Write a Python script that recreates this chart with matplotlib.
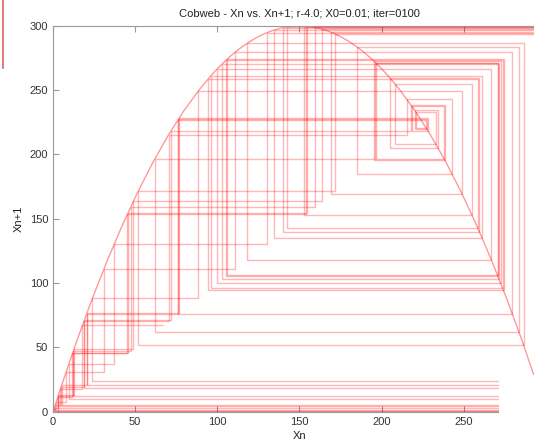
import matplotlib
matplotlib.use("Agg")
import matplotlib.pyplot as plt
from matplotlib.collections import LineCollection
from matplotlib.path import Path
from matplotlib.patches import PathPatch, Rectangle
from matplotlib.lines import Line2D

# Xn for n = 0 .. 100, shown on a 0-300 scale
xn = [3.00, 11.88, 45.64, 154.78, 299.70, 1.22, 4.85, 19.10, 71.53, 217.89,
      238.55, 195.46, 272.44, 100.10, 266.80, 118.11, 286.44, 51.80, 171.42, 293.88,
      23.98, 88.25, 249.16, 168.91, 295.23, 18.77, 70.37, 215.46, 242.87, 185.00,
      283.67, 61.77, 196.21, 271.53, 103.06, 270.62, 106.01, 274.20, 94.33, 258.68,
      142.52, 299.25, 2.98, 11.79, 45.32, 153.89, 299.80, 0.81, 3.22, 12.74,
      48.81, 163.47, 297.58, 9.60, 37.18, 130.27, 294.81, 20.39, 76.02, 227.03,
      220.88, 233.02, 208.11, 254.98, 153.06, 299.87, 0.50, 2.00, 7.93, 30.89,
      110.84, 279.56, 76.20, 227.38, 220.16, 234.37, 205.10, 259.52, 140.07, 298.69,
      5.24, 20.58, 76.68, 228.32, 218.21, 237.97, 196.83, 270.77, 105.54, 273.65,
      96.15, 261.34, 134.72, 296.89, 12.32, 47.25, 159.24, 298.86, 4.54, 17.88,
      67.24]

# map curve as a quadratic Bezier: ends at 0 and 300, apex (150, 300)
curve_x = [0, 150, 300]
curve_y = [0, 600, 0]

ticks_x = [0, 50, 100, 150, 200, 250]
ticks_y = [0, 50, 100, 150, 200, 250, 300]

plt.rcParams['font.family'] = ['Liberation Sans', 'DejaVu Sans']
fig = plt.figure(figsize=(5.34, 4.44), dpi=100)
ax = fig.add_axes([0.0993, 0.0727, 0.923, 0.869])

# cobweb: vertical to the curve, then horizontal to the diagonal
segs = []
y_prev = 0.0
for i in range(len(xn) - 1):
    segs.append([(xn[i], y_prev), (xn[i], xn[i + 1])])
    segs.append([(xn[i], xn[i + 1]), (xn[i + 1], xn[i + 1])])
    y_prev = xn[i + 1]
ax.add_collection(LineCollection(segs, colors='red', alpha=0.28, linewidths=1.0))

curve = Path(list(zip(curve_x, curve_y)),
             [Path.MOVETO, Path.CURVE3, Path.CURVE3])
ax.add_patch(PathPatch(curve, fill=False, edgecolor='red', alpha=0.4, lw=1.0))

ax.set_xlim(0, 300)
ax.set_ylim(0, 300)
ax.set_xticks(ticks_x)
ax.set_yticks(ticks_y)
ax.tick_params(direction='in', top=True, right=True, labelsize=8, length=4,
               colors='#999999', labelcolor='#333333')
for s in ax.spines.values():
    s.set_color('#999999')
ax.set_title('Cobweb - Xn vs. Xn+1; r-4.0; X0=0.01; iter=0100', fontsize=8, pad=7,
             color='#222222')
ax.set_xlabel('Xn', fontsize=8, labelpad=3, color='#222222')
ax.set_ylabel('Xn+1', fontsize=8, labelpad=4, color='#222222')

# blank corner at the lower right of the window
fig.add_artist(Rectangle((499 / 534, 0), 1 - 499 / 534, 69 / 444,
                         transform=fig.transFigure, facecolor='white',
                         edgecolor='none', zorder=10))
# edge of the neighbouring window on the left
fig.add_artist(Line2D([2.5 / 534, 2.5 / 534], [1, 1 - 68 / 444],
                      transform=fig.transFigure, color='#e06060', lw=1.2))

fig.savefig('out.png', dpi=100)
